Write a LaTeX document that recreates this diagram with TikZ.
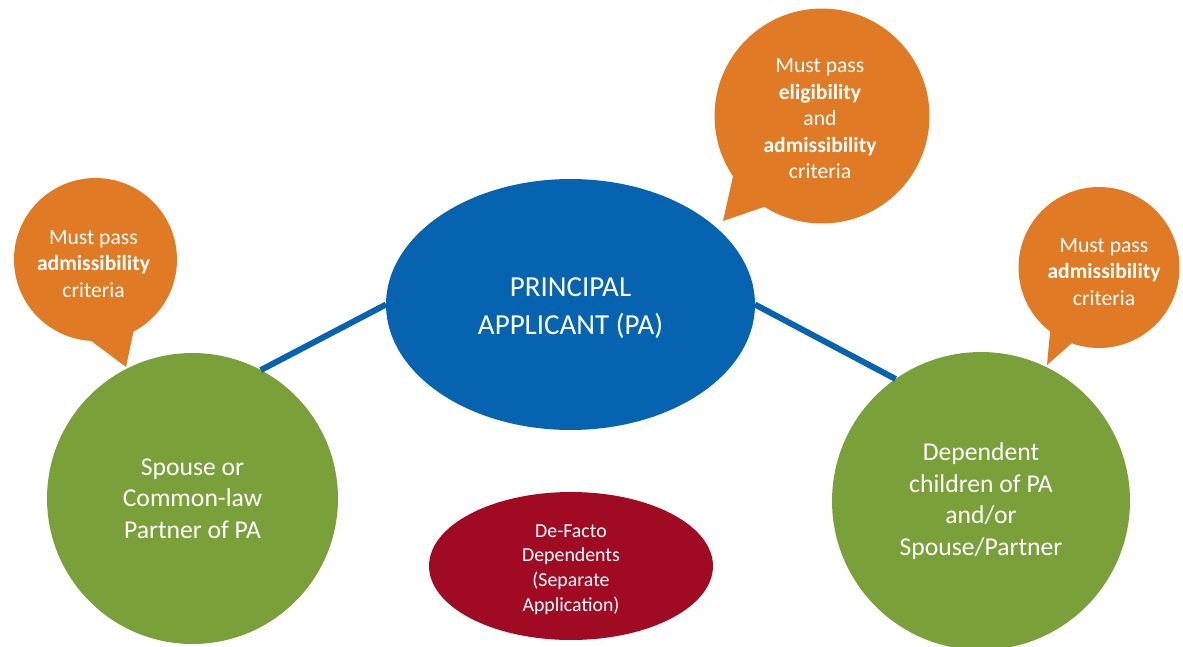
\documentclass[tikz,border=0pt]{standalone}
\usepackage{fontspec}
\setmainfont{Carlito}
\usetikzlibrary{shapes.geometric}
\definecolor{paBlue}{RGB}{6,99,176}
\definecolor{dGreen}{RGB}{122,160,58}
\definecolor{bOrange}{RGB}{224,122,37}
\definecolor{dRed}{RGB}{160,10,35}
\tikzset{
  bubble/.style={circle, fill=bOrange, draw=none, inner sep=0pt, outer sep=0pt},
  bubbletext/.style={text=white, align=center, inner sep=0pt, font=\fontsize{12.3}{15.1}\selectfont},
  greencircle/.style={circle, fill=dGreen, draw=none, inner sep=0pt, outer sep=0pt, text=white, align=center, font=\fontsize{14.6}{18}\selectfont},
  paellipse/.style={ellipse, fill=paBlue, draw=none, inner sep=0pt, outer sep=0pt},
  patext/.style={text=white, align=center, inner sep=0pt, font=\fontsize{16.5}{21.6}\selectfont},
  redellipse/.style={ellipse, fill=dRed, draw=none, inner sep=0pt, outer sep=0pt},
  redtext/.style={text=white, align=center, inner sep=0pt, font=\fontsize{11.3}{14}\selectfont},
  link/.style={draw=paBlue, line width=0.12cm}
}
\begin{document}
\begin{tikzpicture}[x=0.02cm, y=-0.02cm]
\useasboundingbox (0,0) rectangle (1183,646);
\fill[white] (0,0) rectangle (1183,646);

% speech bubbles
\node[bubble, minimum size=3.26cm] (b1) at (95.5,259.5) {};
\coordinate (t1a) at (86,337);
\coordinate (t1b) at (126,367);
\coordinate (t1c) at (137,315);
\fill[bOrange] (t1a) -- (t1b) -- (t1c) -- cycle;
\node[bubbletext] (b1t) at (93.5,264) {Must pass\\\textbf{admissibility}\\criteria};

\node[bubble, minimum size=4.30cm] (b2) at (822,116) {};
\coordinate (t2a) at (740,145);
\coordinate (t2b) at (723,221);
\coordinate (t2c) at (790,198);
\fill[bOrange] (t2a) -- (t2b) -- (t2c) -- cycle;
\node[bubbletext] (b2t) at (820,119) {Must pass\\\textbf{eligibility}\\and\\\textbf{admissibility}\\criteria};

\node[bubble, minimum size=3.22cm] (b3) at (1099,267.5) {};
\coordinate (t3a) at (1053,300);
\coordinate (t3b) at (1047,365);
\coordinate (t3c) at (1090,327);
\fill[bOrange] (t3a) -- (t3b) -- (t3c) -- cycle;
\node[bubbletext] (b3t) at (1104,272) {Must pass\\\textbf{admissibility}\\criteria};

% main nodes
\node[greencircle, minimum size=5.82cm] (sp) at (192.5,498.5) {Spouse or\\Common-law\\Partner of PA};
\node[greencircle, minimum size=5.96cm] (dc) at (981,501) {Dependent\\children of PA\\and/or\\Spouse/Partner};
\node[paellipse, minimum width=7.38cm, minimum height=5.02cm] (pa) at (570.5,304.5) {};
\node[patext] (pat) at (570.5,308) {PRINCIPAL\\APPLICANT (PA)};
\node[redellipse, minimum width=5.68cm, minimum height=2.96cm] (df) at (571,566) {};
\node[redtext] (dft) at (571,569.5) {De-Facto\\Dependents\\(Separate\\Application)};

% connectors
\draw[link] (pa.west) -- (sp.62);
\draw[link] (pa.east) -- (dc.125);
\end{tikzpicture}
\end{document}
